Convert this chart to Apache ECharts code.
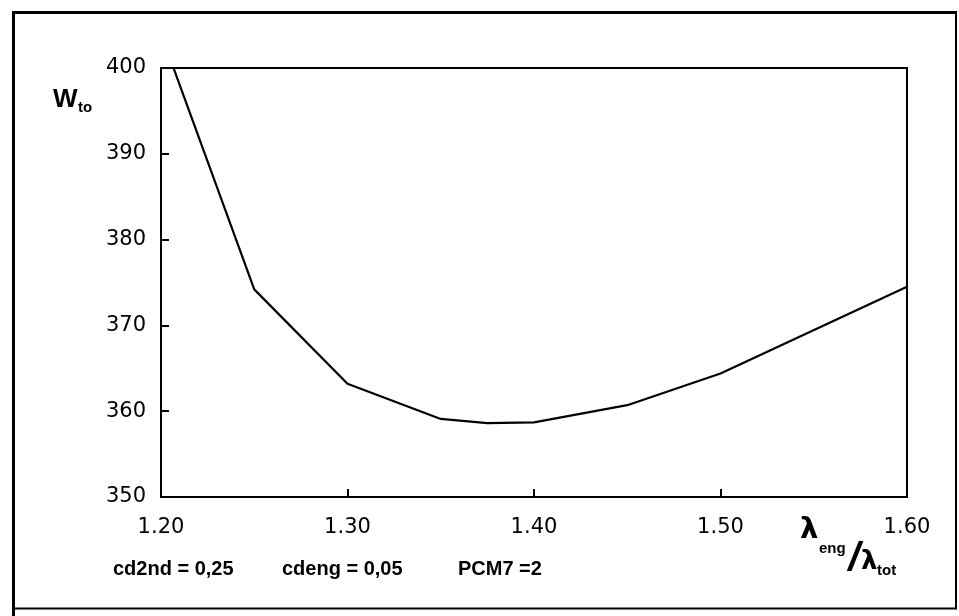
<!DOCTYPE html>
<html>
<head>
<meta charset="utf-8">
<script src="https://cdn.jsdelivr.net/npm/echarts@6/dist/echarts.min.js"></script>
<style>
  html, body { margin: 0; padding: 0; background: #fff; }
  #chart { width: 959px; height: 616px; }
</style>
</head>
<body>
<div id="chart"></div>
<script>
// Take-off weight against the engine / total wavelength ratio
const ratio = [1.20, 1.25, 1.30, 1.35, 1.375, 1.40, 1.45, 1.50, 1.60];
const weight = [404.0, 374.2, 363.2, 359.1, 358.6, 358.7, 360.7, 364.4, 374.5];

const xTicks = [1.20, 1.30, 1.40, 1.50, 1.60];
const yTicks = [350, 360, 370, 380, 390, 400];

const notes = ['cd2nd = 0,25', 'cdeng = 0,05', 'PCM7 =2'];

const chart = echarts.init(document.getElementById('chart'), null, { renderer: 'canvas' });

const numFont = '"DejaVu Sans", sans-serif';
const boldFont = '"Liberation Sans", Arial, sans-serif';

chart.setOption({
  animation: false,
  backgroundColor: '#fff',
  grid: {
    left: 161, right: 52, top: 68, bottom: 119,
    show: true, borderColor: '#000', borderWidth: 2, backgroundColor: 'transparent'
  },
  xAxis: {
    type: 'value',
    min: xTicks[0], max: xTicks[xTicks.length - 1], interval: 0.1,
    axisLine: { show: true, lineStyle: { color: '#000', width: 2 } },
    axisTick: { show: true, inside: true, length: 8, lineStyle: { color: '#000', width: 2 } },
    splitLine: { show: false },
    axisLabel: {
      color: '#000', fontFamily: numFont, fontSize: 21, margin: 20,
      formatter: v => v.toFixed(2)
    }
  },
  yAxis: {
    type: 'value',
    min: yTicks[0], max: yTicks[yTicks.length - 1], interval: 10,
    axisLine: { show: true, lineStyle: { color: '#000', width: 2 } },
    axisTick: { show: true, inside: true, length: 8, lineStyle: { color: '#000', width: 2 } },
    splitLine: { show: false },
    axisLabel: {
      color: '#000', fontFamily: numFont, fontSize: 21, margin: 15,
      padding: [6, 0, 0, 0]
    }
  },
  series: [{
    type: 'line',
    data: ratio.map((r, i) => [r, weight[i]]),
    symbol: 'none',
    clip: true,
    lineStyle: { color: '#000', width: 2.2 }
  }],
  graphic: [
    // outer frame
    { type: 'line', shape: { x1: 13.5, y1: 11, x2: 13.5, y2: 616 }, style: { stroke: '#000', lineWidth: 3 } },
    { type: 'line', shape: { x1: 12, y1: 12.5, x2: 957, y2: 12.5 }, style: { stroke: '#000', lineWidth: 3 } },
    { type: 'line', shape: { x1: 956, y1: 11, x2: 956, y2: 609 }, style: { stroke: '#000', lineWidth: 2 } },
    { type: 'line', shape: { x1: 12, y1: 608.5, x2: 957, y2: 608.5 }, style: { stroke: '#000', lineWidth: 2 } },

    // y-axis title W_to
    { type: 'text', style: { text: 'W', x: 53, y: 100, font: 'bold 26px ' + boldFont, fill: '#000', verticalAlign: 'middle' } },
    { type: 'text', style: { text: 'to', x: 78, y: 108, font: 'bold 15px ' + boldFont, fill: '#000', verticalAlign: 'middle' } },

    // x-axis title λeng / λtot
    { type: 'text', style: { text: 'λ', x: 800, y: 530, font: 'bold 29px "DejaVu Sans", sans-serif', fill: '#000', verticalAlign: 'middle' } },
    { type: 'text', style: { text: 'eng', x: 819, y: 549, font: 'bold 15px ' + boldFont, fill: '#000', verticalAlign: 'middle' } },
    { type: 'text', x: 855, y: 560, scaleX: 1.5, style: { text: '/', x: 0, y: 0, font: '40px ' + boldFont, fill: '#000', align: 'center', verticalAlign: 'middle' } },
    { type: 'text', style: { text: 'λ', x: 861, y: 562, font: 'bold 26px "DejaVu Sans", sans-serif', fill: '#000', verticalAlign: 'middle' } },
    { type: 'text', style: { text: 'tot', x: 877, y: 571, font: 'bold 15px ' + boldFont, fill: '#000', verticalAlign: 'middle' } },

    // parameter notes under the plot
    { type: 'text', style: { text: notes[0], x: 113, y: 569, font: 'bold 20px ' + boldFont, fill: '#000', verticalAlign: 'middle' } },
    { type: 'text', style: { text: notes[1], x: 282, y: 569, font: 'bold 20px ' + boldFont, fill: '#000', verticalAlign: 'middle' } },
    { type: 'text', style: { text: notes[2], x: 458, y: 569, font: 'bold 20px ' + boldFont, fill: '#000', verticalAlign: 'middle' } }
  ]
});
</script>
</body>
</html>
